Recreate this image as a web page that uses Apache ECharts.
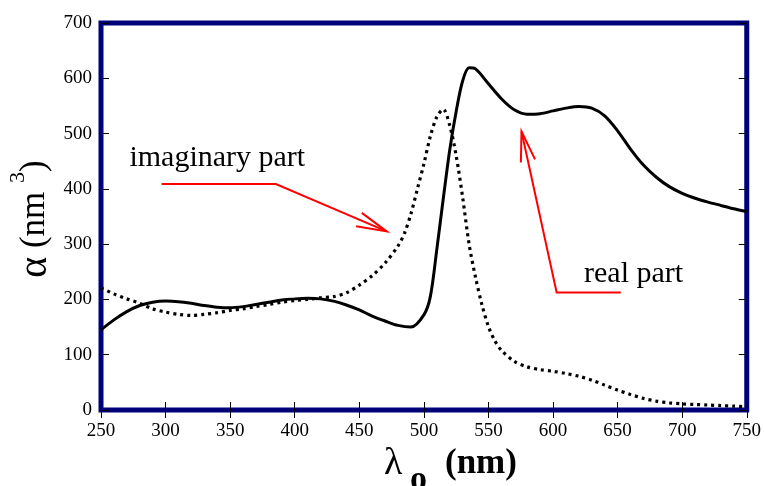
<!DOCTYPE html>
<html>
<head>
<meta charset="utf-8">
<script src="https://cdn.jsdelivr.net/npm/echarts@6/dist/echarts.min.js"></script>
<style>html,body{margin:0;padding:0;background:#fff;}#c{width:764px;height:486px;}</style>
</head>
<body>
<div id="c"></div>
<script>
// Real part (solid)
const realX = [250,260,270,280,290,300,310,320,330,340,350,360,370,380,390,400,410,420,430,440,450,460,470,480,490,500,505,510,515,520,525,530,535,540,550,560,570,580,590,600,610,620,630,640,650,660,670,680,690,700,710,720,730,740,750];
const realY = [145,163,178,189,195,197,196,193,189,186,185,187,191,195,199,201,202,201,197,190,181,170,161,153,150,172,205,290,382,470,540,595,619,617,590,563,543,535,536,541,546,549,546,532,505,472,443,421,404,392,383,376,370,364,359];
// Imaginary part (dotted)
const imagX = [250,260,270,280,290,300,310,320,330,340,350,360,370,380,390,400,410,420,430,440,450,460,470,480,485,490,495,500,505,510,515,520,525,530,535,540,545,550,555,560,570,580,590,600,610,620,630,640,650,660,670,680,690,700,710,720,730,740,750];
const imagY = [221,210,201,193,183,177,173,171,173,176,180,183,187,191,195,198,200,203,205,212,226,243,266,297,320,355,400,445,495,530,544,515,460,385,300,240,190,151,125,108,88,78,73,70,66,61,54,45,36,28,21,16,13,11,10,9,8,7,6];
// Axis settings
const xMin = 250, xMax = 750, xStep = 50;
const yMin = 0, yMax = 700, yStep = 100;
// Annotations (data coordinates)
const imagLabel = "imaginary part", imagLabelPos = [272, 455];
const imagArrow = [[296.9, 408.7], [385.4, 408.7], [471.2, 323]];
const realLabel = "real part", realLabelPos = [624, 245];
const realArrow = [[652.5, 212.7], [602.8, 212.7], [575.6, 503.8]];

const pairs = (xs, ys) => xs.map((x, i) => [x, ys[i]]);
const chart = echarts.init(document.getElementById('c'));
const serif = "'Liberation Serif', 'DejaVu Serif', serif";
const tick = {show: true, inside: true, length: 8, lineStyle: {color: '#000', width: 1}};
chart.setOption({
  animation: false,
  backgroundColor: '#fff',
  grid: {left: 101, right: 13, top: 23, bottom: 76, show: true, borderColor: '#00007a', borderWidth: 5, backgroundColor: 'transparent'},
  xAxis: [
    {type: 'value', min: xMin, max: xMax, interval: xStep, position: 'bottom',
     axisLine: {show: false}, axisTick: tick, splitLine: {show: false},
     axisLabel: {fontFamily: serif, fontSize: 19, color: '#000', margin: 12}},
    {type: 'value', min: xMin, max: xMax, interval: xStep, position: 'top',
     axisLine: {show: false}, axisTick: tick, splitLine: {show: false}, axisLabel: {show: false}}
  ],
  yAxis: [
    {type: 'value', min: yMin, max: yMax, interval: yStep, position: 'left',
     axisLine: {show: false}, axisTick: tick, splitLine: {show: false},
     axisLabel: {fontFamily: serif, fontSize: 19, color: '#000', margin: 9}},
    {type: 'value', min: yMin, max: yMax, interval: yStep, position: 'right',
     axisLine: {show: false}, axisTick: tick, splitLine: {show: false}, axisLabel: {show: false}}
  ],
  series: [
    {type: 'line', data: pairs(imagX, imagY), smooth: 0.3, symbol: 'none', z: 2,
     lineStyle: {color: '#000', width: 3.2, type: [3, 4], cap: 'butt'}},
    {type: 'line', data: pairs(realX, realY), smooth: 0.3, symbol: 'none', z: 3,
     lineStyle: {color: '#000', width: 3}}
  ]
});

function px(p) { return chart.convertToPixel({xAxisIndex: 0, yAxisIndex: 0}, p); }
function arrow(pts) {
  const P = pts.map(px);
  const tip = P[P.length - 1], prev = P[P.length - 2];
  const ang = Math.atan2(prev[1] - tip[1], prev[0] - tip[0]);
  const L = 31, a = 13.5 * Math.PI / 180;
  const h1 = [tip[0] + L * Math.cos(ang + a), tip[1] + L * Math.sin(ang + a)];
  const h2 = [tip[0] + L * Math.cos(ang - a), tip[1] + L * Math.sin(ang - a)];
  const st = {stroke: '#ff0000', lineWidth: 2, fill: null};
  return [
    {type: 'polyline', shape: {points: P}, style: st, z: 10},
    {type: 'polyline', shape: {points: [h1, tip, h2]}, style: st, z: 10}
  ];
}
const il = px(imagLabelPos), rl = px(realLabelPos);
const txt = (text, x, y, font, extra) => Object.assign({type: 'text', x: x, y: y, z: 10,
  style: {text: text, font: font, fill: '#000', textAlign: 'left', textVerticalAlign: 'middle'}}, extra || {});
chart.setOption({
  graphic: [
    ...arrow(imagArrow),
    ...arrow(realArrow),
    txt(imagLabel, il[0], il[1], "30px " + serif),
    txt(realLabel, rl[0], rl[1], "30px " + serif),
    txt('λ', 384, 464, "38px " + serif),
    txt('o', 410, 480, "bold 34px " + serif),
    txt('(nm)', 445, 464, "bold 35px " + serif),
    {type: 'text', x: 35, y: 219, rotation: Math.PI / 2, z: 10,
     style: {text: '{a|α}{b| (nm }{s|3}{b|)}', textAlign: 'center', textVerticalAlign: 'middle', fill: '#000',
       rich: {
         a: {fontFamily: serif, fontSize: 40, lineHeight: 56, verticalAlign: 'middle', fill: '#000'},
         b: {fontFamily: serif, fontSize: 35, lineHeight: 56, verticalAlign: 'middle', fill: '#000'},
         s: {fontFamily: serif, fontSize: 22, lineHeight: 22, verticalAlign: 'top', fill: '#000'}
       }}}
  ]
});
</script>
</body>
</html>
